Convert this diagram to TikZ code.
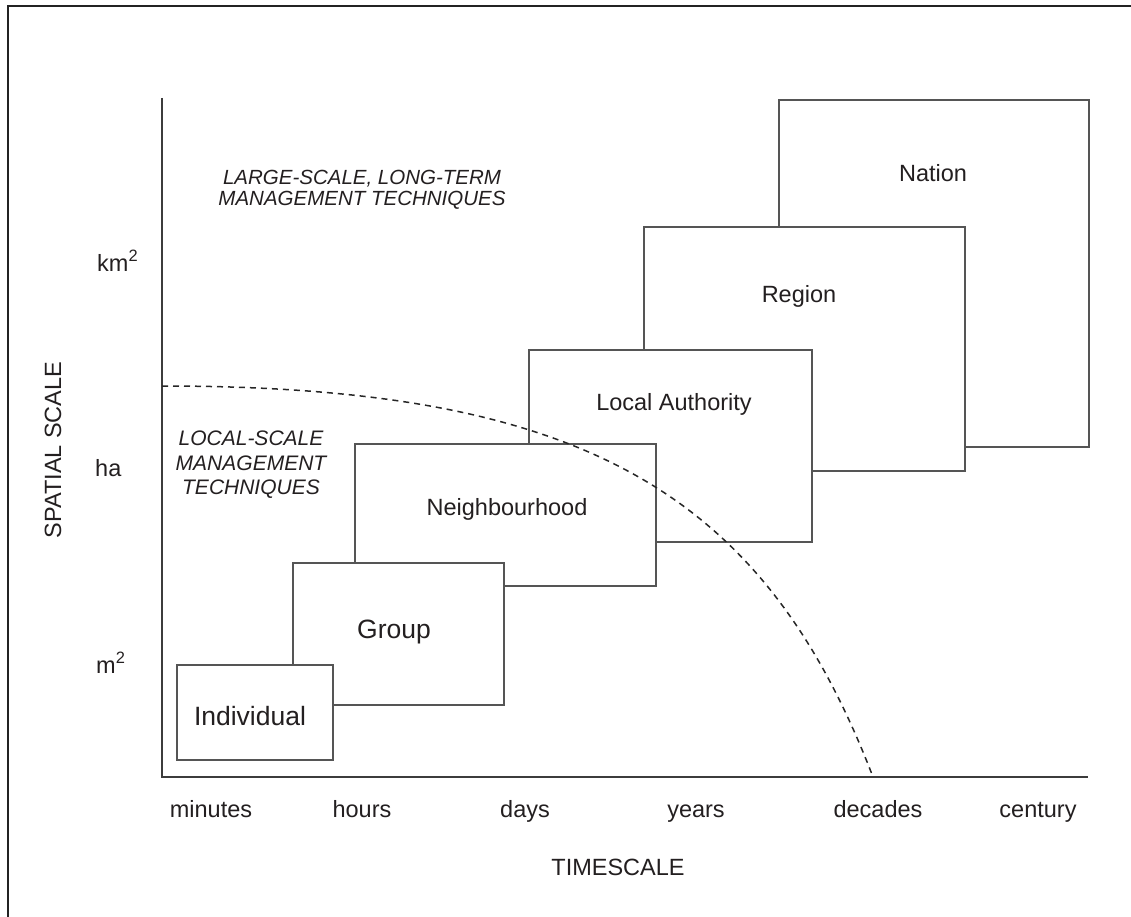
\documentclass[tikz,border=0pt]{standalone}
\usepackage{fontspec}
\setmainfont{Liberation Sans}
\definecolor{txt}{RGB}{35,31,32}
\definecolor{boxline}{RGB}{85,85,85}
\definecolor{axisline}{RGB}{60,60,60}
\definecolor{frameline}{RGB}{35,35,35}
\tikzset{
  box/.style={draw=boxline, line width=2pt, fill=white, inner sep=0pt, anchor=north west},
  lbl/.style={text=txt, inner sep=0pt, font=\fontsize{23.5}{28}\selectfont},
  biglbl/.style={text=txt, inner sep=0pt, font=\fontsize{26.5}{30}\selectfont},
  itlbl/.style={text=txt, inner sep=0pt, align=center},
  axis/.style={draw=axisline, line width=2pt},
  boundary/.style={draw=black!85, line width=1.5pt, dash pattern=on 6pt off 5pt},
  frame/.style={draw=frameline, line width=2.5pt}
}
\begin{document}
\begin{tikzpicture}[x=1pt,y=-1pt]
\path[use as bounding box] (0,0) rectangle (1131,917);
% frame (left and top edges)
\coordinate (fbl) at (8,917);
\coordinate (ftl) at (8,6);
\coordinate (ftr) at (1131,6);
\draw[frame] (fbl) -- (ftl) -- (ftr);
% boxes, back to front
\node[box, minimum width=310pt, minimum height=347pt] (nation) at (778,99) {};
\node[box, minimum width=321pt, minimum height=244pt] (region) at (643,226) {};
\node[box, minimum width=283pt, minimum height=192pt] (local) at (528,349) {};
\node[box, minimum width=301pt, minimum height=142pt] (neigh) at (354,443) {};
\node[box, minimum width=211pt, minimum height=142pt] (group) at (292,562) {};
\node[box, minimum width=156pt, minimum height=95pt] (indiv) at (176,664) {};
% box labels
\node[lbl, anchor=base] (tnation) at (933,182) {Nation};
\node[lbl, anchor=base] (tregion) at (799,302) {Region};
\node[lbl, anchor=base] (tlocal) at (674,410) {Local Authority};
\node[lbl, anchor=base] (tneigh) at (507,515) {Neighbourhood};
\node[biglbl, anchor=base] (tgroup) at (394,638) {Group};
\node[biglbl, anchor=base] (tindiv) at (250,725) {Individual};
% axes
\coordinate (ytop) at (162,98);
\coordinate (orig) at (162,777);
\coordinate (xend) at (1088,777);
\draw[axis] (ytop) -- (orig) -- (xend);
% boundary curve
\coordinate (cstart) at (162,386);
\coordinate (cend) at (873,777);
\draw[boundary] (cstart) .. controls (582,386) and (763,491) .. (cend);
% region texts
\node[itlbl, font=\fontsize{20.5}{21.5}\selectfont\itshape] (large) at (362,190) {LARGE-SCALE, LONG-TERM\\MANAGEMENT TECHNIQUES};
\node[itlbl, font=\fontsize{21}{24.5}\selectfont\itshape] (localtech) at (251,465) {LOCAL-SCALE\\MANAGEMENT\\TECHNIQUES};
% y tick labels
\node[lbl, anchor=base west] (km) at (97,271) {km\textsuperscript{2}};
\node[lbl, anchor=base west] (ha) at (95,476) {ha};
\node[lbl, anchor=base west] (m2) at (96,673) {m\textsuperscript{2}};
\node[lbl, rotate=90] (ylab) at (53,450) {SPATIAL SCALE};
% x tick labels
\node[lbl, anchor=base] (tmin) at (211,817) {minutes};
\node[lbl, anchor=base] (thr) at (362,817) {hours};
\node[lbl, anchor=base] (tday) at (525,817) {days};
\node[lbl, anchor=base] (tyr) at (696,817) {years};
\node[lbl, anchor=base] (tdec) at (878,817) {decades};
\node[lbl, anchor=base] (tcen) at (1038,817) {century};
\node[lbl, anchor=base] (xlab) at (618,875) {TIMESCALE};
\end{tikzpicture}
\end{document}
